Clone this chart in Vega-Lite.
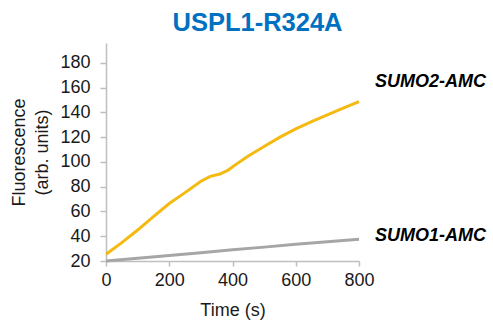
{
  "$schema": "https://vega.github.io/schema/vega-lite/v6.json",
  "width": 253,
  "height": 218,
  "autosize": {"type": "none"},
  "padding": {"left": 106, "top": 43, "right": 134, "bottom": 63},
  "background": "white",
  "config": {
    "view": {"stroke": null},
    "font": "Liberation Sans",
    "axis": {
      "grid": false,
      "domainColor": "#bfbfbf",
      "tickColor": "#bfbfbf",
      "domainWidth": 1.5,
      "tickWidth": 1.5,
      "labelFont": "Liberation Sans",
      "titleFont": "Liberation Sans",
      "labelFontSize": 18,
      "titleFontSize": 18,
      "labelColor": "#1a1a1a",
      "titleColor": "#1a1a1a",
      "titleFontWeight": "normal",
      "labelOverlap": false
    }
  },
  "title": {
    "text": "USPL1-R324A",
    "font": "Liberation Sans",
    "fontSize": 25.5,
    "fontWeight": "bold",
    "color": "#0070c0",
    "anchor": "middle",
    "dx": 25,
    "offset": 7
  },
  "datasets": {
    "curves": [
      {"series": "SUMO2-AMC", "t": 0, "v": 25.5},
      {"series": "SUMO2-AMC", "t": 50, "v": 34.8},
      {"series": "SUMO2-AMC", "t": 100, "v": 45},
      {"series": "SUMO2-AMC", "t": 150, "v": 55.8},
      {"series": "SUMO2-AMC", "t": 200, "v": 66.4},
      {"series": "SUMO2-AMC", "t": 250, "v": 75.2},
      {"series": "SUMO2-AMC", "t": 300, "v": 84.4},
      {"series": "SUMO2-AMC", "t": 330, "v": 88.3},
      {"series": "SUMO2-AMC", "t": 360, "v": 90.2},
      {"series": "SUMO2-AMC", "t": 385, "v": 93.2},
      {"series": "SUMO2-AMC", "t": 410, "v": 97.8},
      {"series": "SUMO2-AMC", "t": 450, "v": 104.8},
      {"series": "SUMO2-AMC", "t": 500, "v": 112.4},
      {"series": "SUMO2-AMC", "t": 550, "v": 120},
      {"series": "SUMO2-AMC", "t": 600, "v": 126.7},
      {"series": "SUMO2-AMC", "t": 650, "v": 132.6},
      {"series": "SUMO2-AMC", "t": 700, "v": 138},
      {"series": "SUMO2-AMC", "t": 750, "v": 143.4},
      {"series": "SUMO2-AMC", "t": 800, "v": 148.7},
      {"series": "SUMO1-AMC", "t": 0, "v": 20},
      {"series": "SUMO1-AMC", "t": 100, "v": 22.3},
      {"series": "SUMO1-AMC", "t": 200, "v": 24.5},
      {"series": "SUMO1-AMC", "t": 300, "v": 26.7},
      {"series": "SUMO1-AMC", "t": 400, "v": 29},
      {"series": "SUMO1-AMC", "t": 500, "v": 31.2},
      {"series": "SUMO1-AMC", "t": 600, "v": 33.5},
      {"series": "SUMO1-AMC", "t": 700, "v": 35.6},
      {"series": "SUMO1-AMC", "t": 800, "v": 37.5}
    ],
    "labels": [
      {"series": "SUMO2-AMC", "t": 800, "v": 164.6},
      {"series": "SUMO1-AMC", "t": 800, "v": 39.8}
    ]
  },
  "encoding": {
    "x": {
      "field": "t", "type": "quantitative",
      "scale": {"domain": [0, 800]},
      "axis": {"values": [0, 200, 400, 600, 800], "title": "Time (s)", "tickSize": 5, "labelPadding": 5, "titlePadding": 12, "labelFlush": false, "labelOverlap": false}
    },
    "y": {
      "field": "v", "type": "quantitative",
      "scale": {"domain": [20, 196]},
      "axis": {"values": [20, 40, 60, 80, 100, 120, 140, 160, 180], "title": ["Fluorescence", "(arb. units)"], "tickSize": 6, "labelPadding": 10, "titlePadding": 8, "titleLineHeight": 23, "labelOverlap": false, "labelFlush": false}
    }
  },
  "layer": [
    {
      "data": {"name": "curves"},
      "mark": {"type": "line", "strokeWidth": 3, "interpolate": "linear"},
      "encoding": {
        "color": {
          "field": "series", "type": "nominal",
          "scale": {"domain": ["SUMO2-AMC", "SUMO1-AMC"], "range": ["#f4ba12", "#a6a6a6"]},
          "legend": null
        }
      }
    },
    {
      "data": {"name": "labels"},
      "mark": {"type": "text", "align": "left", "baseline": "middle", "dx": 16, "fontSize": 18, "fontWeight": "bold", "fontStyle": "italic", "font": "Liberation Sans", "color": "#000000"},
      "encoding": {
        "text": {"field": "series"}
      }
    }
  ]
}
